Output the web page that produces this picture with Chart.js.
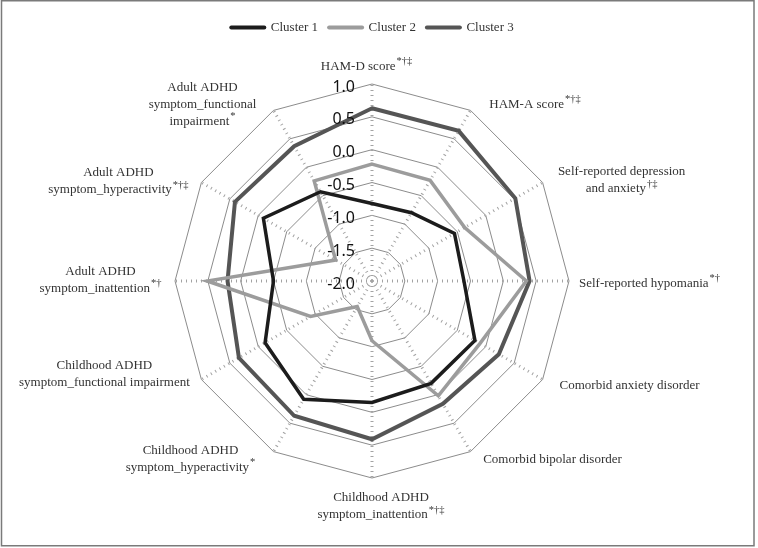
<!DOCTYPE html>
<html>
<head>
<meta charset="utf-8">
<script src="https://cdn.jsdelivr.net/npm/chart.js@4.4.1/dist/chart.umd.min.js"></script>
<style>
  html, body { margin: 0; padding: 0; background: #fff; }
  #wrap { position: relative; width: 758px; height: 548px; }
</style>
</head>
<body>
<div id="wrap"><canvas id="radar" width="758" height="548"></canvas></div>
<script>
// ── data ──
const AXIS_LABELS = [
  ['HAM-D score'],
  ['HAM-A score'],
  ['Self-reported depression', 'and anxiety'],
  ['Self-reported hypomania'],
  ['Comorbid anxiety disorder'],
  ['Comorbid bipolar disorder'],
  ['Childhood ADHD', 'symptom_inattention'],
  ['Childhood ADHD', 'symptom_hyperactivity'],
  ['Childhood ADHD', 'symptom_functional impairment'],
  ['Adult ADHD', 'symptom_inattention'],
  ['Adult ADHD', 'symptom_hyperactivity'],
  ['Adult ADHD', 'symptom_functional', 'impairment'],
];
const AXIS_MARKS = ['*†‡', '*†‡', '†‡', '*†', '', '', '*†‡', '*', '', '*†', '*†‡', '*'];

const CLUSTER_1 = [-0.82, -0.80, -0.55, -0.60, -0.19, -0.20, -0.15, 0.08, -0.12, -0.50, -0.09, -0.43];
const CLUSTER_2 = [-0.22, -0.23, -0.37, 0.35, -0.10, 0.02, -1.09, -1.55, -0.92, 0.51, -1.36, -0.24];
const CLUSTER_3 = [0.63, 0.64, 0.52, 0.40, 0.23, 0.16, 0.41, 0.37, 0.34, 0.20, 0.41, 0.37];

const TICK_MIN = -2.0;
const TICK_MAX = 1.0;
const TICK_STEP = 0.5;

// ── look ──
const SERIF = '"Liberation Serif", "DejaVu Serif", serif';
const TEXT_COLOR = '#333';
const LINE_H = 17;
// label block centre, relative to the outer ring vertex of its axis
const LABEL_OFFSET = [
  [-5.5, -17.5], [64.5, -6], [79, -2], [80.5, 2.7], [87, 6], [82, 8],
  [9, 28.5], [-83, 7.5], [-97, -5], [-74.5, -1], [-83, -1], [-71, -6],
];

function makeSet(label, values, color, width) {
  return {
    label,
    data: values,
    borderColor: color,
    borderWidth: width,
    borderJoinStyle: 'miter',
    fill: false,
    tension: 0,
    pointRadius: 0,
    pointHoverRadius: 0,
    pointStyle: 'line',
    pointBorderColor: color,
    pointBackgroundColor: color,
    pointBorderWidth: 4,
  };
}

// frame round the whole figure
const framePlugin = {
  id: 'frame',
  beforeDraw(chart) {
    const ctx = chart.ctx;
    ctx.save();
    ctx.fillStyle = '#fff';
    ctx.fillRect(0, 0, chart.width, chart.height);
    ctx.strokeStyle = '#7a7a7a';
    ctx.lineWidth = 1.5;
    ctx.strokeRect(1.5, 0.75, 752.5, 545);
    ctx.restore();
  },
};

// tick values left of the vertical axis, axis names with superscript marks
const axisTextPlugin = {
  id: 'axisText',
  afterDraw(chart) {
    const ctx = chart.ctx;
    const r = chart.scales.r;
    ctx.save();

    ctx.fillStyle = '#111';
    ctx.font = '16px "Noto Sans", "Open Sans", sans-serif';
    ctx.textAlign = 'right';
    ctx.textBaseline = 'middle';
    r.ticks.forEach((t) => {
      const d = r.getDistanceFromCenterForValue(t.value);
      ctx.fillText(t.value.toFixed(1), r.xCenter - 17, r.yCenter - d + 3);
    });

    ctx.fillStyle = TEXT_COLOR;
    ctx.textAlign = 'left';
    AXIS_LABELS.forEach((lines, i) => {
      const p = r.getPointPosition(i, r.drawingArea);
      const cx = p.x + LABEL_OFFSET[i][0];
      const cy = p.y + LABEL_OFFSET[i][1];
      const n = lines.length;
      lines.forEach((line, k) => {
        const mark = k === n - 1 ? AXIS_MARKS[i] : '';
        ctx.font = '13px ' + SERIF;
        const w = ctx.measureText(line).width;
        ctx.font = '10.5px ' + SERIF;
        const mw = mark ? ctx.measureText(mark).width + 1 : 0;
        const x0 = cx - (w + mw) / 2;
        const y = cy + (k - (n - 1) / 2) * LINE_H;
        ctx.font = '13px ' + SERIF;
        ctx.fillText(line, x0, y);
        if (mark) {
          ctx.font = '10.5px ' + SERIF;
          ctx.fillText(mark, x0 + w + 1, y - 5);
        }
      });
    });
    ctx.restore();
  },
};

document.addEventListener('DOMContentLoaded', () => {
  const canvas = document.getElementById('radar');
  new Chart(canvas, {
    type: 'radar',
    data: {
      labels: AXIS_LABELS,
      datasets: [
        makeSet('Cluster 1', CLUSTER_1, '#1c1c1c', 3.5),
        makeSet('Cluster 2', CLUSTER_2, '#9c9c9c', 3.5),
        makeSet('Cluster 3', CLUSTER_3, '#555555', 4),
      ],
    },
    options: {
      responsive: false,
      animation: false,
      devicePixelRatio: 1,
      events: [],
      layout: { padding: { top: 10, left: 175, right: 188, bottom: 29 } },
      scales: {
        r: {
          min: TICK_MIN,
          max: TICK_MAX,
          startAngle: 0,
          ticks: { stepSize: TICK_STEP, display: false },
          grid: { circular: false, color: '#8c8c8c', lineWidth: 1 },
          angleLines: { color: '#a3a3a3', lineWidth: 3, borderDash: [1, 4] },
          pointLabels: { display: false },
        },
      },
      plugins: {
        tooltip: { enabled: false },
        legend: {
          position: 'top',
          labels: {
            usePointStyle: true,
            pointStyleWidth: 33,
            padding: 11,
            color: TEXT_COLOR,
            font: { family: SERIF, size: 13 },
            generateLabels: (chart) =>
              Chart.defaults.plugins.legend.labels.generateLabels(chart)
                .map((l) => ({ ...l, lineCap: 'round' })),
          },
        },
      },
    },
    plugins: [framePlugin, axisTextPlugin],
  });
});
</script>
</body>
</html>
